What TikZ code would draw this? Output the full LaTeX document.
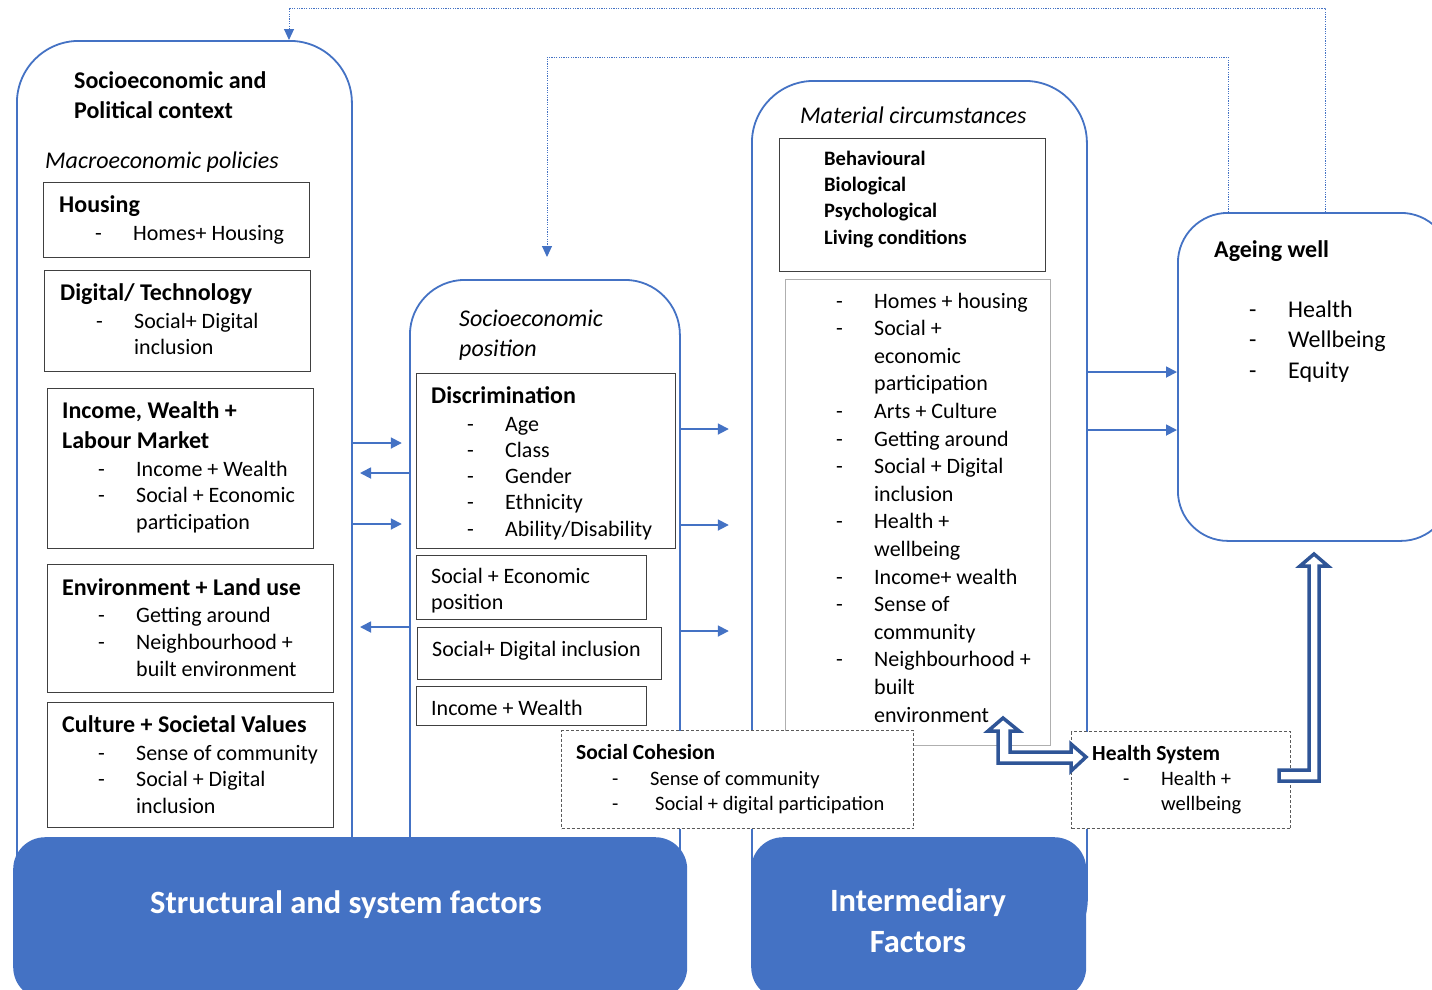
\documentclass[tikz,border=0pt]{standalone}
\usepackage{fontspec}
\setmainfont{Carlito}
\usetikzlibrary{arrows.meta}
\definecolor{sysblue}{RGB}{68, 114, 196}
\definecolor{deepblue}{RGB}{47, 85, 151}
\definecolor{boxgray}{RGB}{64, 64, 64}
\definecolor{listgray}{RGB}{175, 175, 175}
\definecolor{cohgray}{RGB}{90, 90, 90}
\tikzset{outer/.style = {draw=sysblue, line width=1.8, fill=white, anchor=north west, inner sep=0}}
\tikzset{inbox/.style = {draw=boxgray, line width=1.2, fill=white, anchor=north west, inner sep=0}}
\tikzset{listbox/.style = {draw=listgray, line width=1, fill=white, anchor=north west, inner sep=0}}
\tikzset{dbox/.style = {draw=cohgray, line width=1, dash pattern=on 3pt off 2pt, fill=white, anchor=north west, inner sep=0}}
\tikzset{banner/.style = {fill=sysblue, rounded corners=32, anchor=north west, inner sep=0}}
\tikzset{txt/.style = {anchor=base west, inner sep=0}}
\tikzset{head/.style = {font=\fontsize{24}{30}\selectfont\bfseries}}
\tikzset{ital/.style = {font=\fontsize{24}{30}\selectfont\itshape}}
\tikzset{body/.style = {font=\fontsize{22}{26.5}\selectfont}}
\tikzset{flow/.style = {draw=sysblue, line width=1.8, -{Triangle[length=11pt, width=11pt]}}}
\tikzset{loop/.style = {draw=sysblue, line width=1, dash pattern=on 1.2pt off 1.2pt, -{Triangle[length=11pt, width=10pt]}}}
\tikzset{hollow/.style = {draw=deepblue, line width=3.5, fill=white, line join=miter}}

\begin{document}
\begin{tikzpicture}[x=1pt, y=-1pt]
    \useasboundingbox (0, 0) rectangle (1432, 989);

    % outer columns
    \node [outer, minimum width=335, minimum height=920, rounded corners=62] (ctx) at (16, 40) {};
    \node [outer, minimum width=270, minimum height=680, rounded corners=55] (sep) at (409, 279) {};
    \node [outer, minimum width=335, minimum height=880, rounded corners=62] (mat) at (751, 80) {};
    \node [outer, minimum width=273, minimum height=328, rounded corners=50] (ageing) at (1177, 212) {};

    % socioeconomic and political context
    \node [txt, head] (ctxtitle) at (74, 88) {\begin{tabular}[t]{@{}l@{}}Socioeconomic and\\Political context\end{tabular}};
    \node [txt, ital] (macro) at (45, 168) {Macroeconomic policies};

    \node [inbox, minimum width=266, minimum height=75] (housing) at (43, 182) {};
    \node [txt, head] (housingt) at (59, 212) {Housing};
    \node [txt, body] (housingl) at (95, 240) {\begin{tabular}[t]{@{}p{38pt}@{}l@{}}- & Homes+ Housing\end{tabular}};

    \node [inbox, minimum width=266, minimum height=101] (digital) at (44, 270) {};
    \node [txt, head] (digitalt) at (60, 300) {Digital/ Technology};
    \node [txt, body] (digitall) at (96, 328) {\begin{tabular}[t]{@{}p{38pt}@{}l@{}}- & Social+ Digital\\ & inclusion\end{tabular}};

    \node [inbox, minimum width=266, minimum height=160] (income) at (47, 388) {};
    \node [txt, head] (incomet) at (62, 418) {\begin{tabular}[t]{@{}l@{}}Income, Wealth +\\Labour Market\end{tabular}};
    \node [txt, body] (incomel) at (98, 476) {\begin{tabular}[t]{@{}p{38pt}@{}l@{}}- & Income + Wealth\\- & Social + Economic\\ & participation\end{tabular}};

    \node [inbox, minimum width=286, minimum height=128] (environ) at (47, 564) {};
    \node [txt, head] (environt) at (62, 595) {Environment + Land use};
    \node [txt, font=\fontsize{22}{27}\selectfont] (environl) at (98, 622) {\begin{tabular}[t]{@{}p{38pt}@{}l@{}}- & Getting around\\- & Neighbourhood +\\ & built environment\end{tabular}};

    \node [inbox, minimum width=286, minimum height=125] (culture) at (47, 702) {};
    \node [txt, head] (culturet) at (62, 732) {Culture + Societal Values};
    \node [txt, body] (culturel) at (98, 760) {\begin{tabular}[t]{@{}p{38pt}@{}l@{}}- & Sense of community\\- & Social + Digital\\ & inclusion\end{tabular}};

    % socioeconomic position
    \node [txt, ital] (septitle) at (459, 326) {\begin{tabular}[t]{@{}l@{}}Socioeconomic\\position\end{tabular}};

    \node [inbox, minimum width=259, minimum height=175] (discrim) at (416, 373) {};
    \node [txt, head] (discrimt) at (431, 403) {Discrimination};
    \node [txt, font=\fontsize{22}{26.3}\selectfont] (discriml) at (467, 431) {\begin{tabular}[t]{@{}p{38pt}@{}l@{}}- & Age\\- & Class\\- & Gender\\- & Ethnicity\\- & Ability/Disability\end{tabular}};

    \node [inbox, minimum width=230, minimum height=64] (sepos) at (416, 555) {};
    \node [txt, font=\fontsize{22}{26}\selectfont] (sepost) at (431, 583) {\begin{tabular}[t]{@{}l@{}}Social + Economic\\position\end{tabular}};

    \node [inbox, minimum width=244, minimum height=52] (sdinc) at (417, 627) {};
    \node [txt, body] (sdinct) at (432, 656) {Social+ Digital inclusion};

    \node [inbox, minimum width=230, minimum height=39] (incwealth) at (416, 686) {};
    \node [txt, body] (incwealtht) at (431, 715) {Income + Wealth};

    % material circumstances
    \node [txt, ital] (mattitle) at (800, 123) {Material circumstances};

    \node [inbox, minimum width=266, minimum height=133] (factors) at (779, 138) {};
    \node [txt, font=\fontsize{20.5}{26.4}\selectfont\bfseries] (factorst) at (824, 165) {\begin{tabular}[t]{@{}l@{}}Behavioural\\Biological\\Psychological\\Living conditions\end{tabular}};

    \node [listbox, minimum width=265, minimum height=466] (matlist) at (785, 279) {};
    \node [txt, font=\fontsize{22}{27.6}\selectfont] (matlistt) at (836, 308) {\begin{tabular}[t]{@{}p{38pt}@{}l@{}}- & Homes + housing\\- & Social +\\ & economic\\ & participation\\- & Arts + Culture\\- & Getting around\\- & Social + Digital\\ & inclusion\\- & Health +\\ & wellbeing\\- & Income+ wealth\\- & Sense of\\ & community\\- & Neighbourhood +\\ & built\\ & environment\end{tabular}};

    % ageing well
    \node [txt, head] (ageingt) at (1214, 257) {Ageing well};
    \node [txt, font=\fontsize{24}{30.5}\selectfont] (ageingl) at (1249, 317) {\begin{tabular}[t]{@{}p{39pt}@{}l@{}}- & Health\\- & Wellbeing\\- & Equity\end{tabular}};

    % arrows between the columns
    \draw [flow] (ctx.east |- 0,443) -- ++(49, 0);
    \draw [flow] (sep.west |- 0,473) -- ++(-49, 0);
    \draw [flow] (ctx.east |- 0,524) -- ++(49, 0);
    \draw [flow] (sep.west |- 0,627) -- ++(-49, 0);

    \draw [flow] (sep.east |- 0,429) -- ++(48, 0);
    \draw [flow] (sep.east |- 0,525) -- ++(48, 0);
    \draw [flow] (sep.east |- 0,631) -- ++(48, 0);

    \draw [flow] (mat.east |- 0,372) -- (ageing.west |- 0,372);
    \draw [flow] (mat.east |- 0,430) -- (ageing.west |- 0,430);

    % feedback loops
    \coordinate (septop) at (547, 257);
    \draw [loop] (ageing.north -| 1325,0) |- (289, 8) -- (ctx.north -| 289,0);
    \draw [loop] (ageing.north -| 1228,0) |- (547, 57) -- (septop);

    % social cohesion and health system
    \node [dbox, minimum width=352, minimum height=98] (cohesion) at (561, 730) {};
    \node [txt, font=\fontsize{21.5}{26}\selectfont\bfseries] (cohesiont) at (576, 759) {Social Cohesion};
    \node [txt, font=\fontsize{20.5}{25.5}\selectfont] (cohesionl) at (612, 785) {\begin{tabular}[t]{@{}p{38pt}@{}l@{}}- & Sense of community\\- & \hspace{5pt}Social + digital participation\end{tabular}};

    \node [dbox, minimum width=219, minimum height=97] (hsystem) at (1071, 731) {};
    \node [txt, font=\fontsize{21.5}{26}\selectfont\bfseries] (hsystemt) at (1092, 760) {Health System};
    \node [txt, font=\fontsize{20.5}{25}\selectfont] (hsysteml) at (1123, 785) {\begin{tabular}[t]{@{}p{38pt}@{}l@{}}- & Health +\\ & wellbeing\end{tabular}};

    \draw [hollow] (1003, 718) -- (1019, 731) -- (1010, 731) -- (1010, 752) -- (1071, 752) -- (1071, 744)
        -- (1086, 757) -- (1071, 771) -- (1071, 763) -- (998, 763) -- (998, 731) -- (988, 731) -- cycle;
    \draw [hollow] (1279, 770) -- (1309, 770) -- (1309, 566) -- (1300, 566) -- (1314, 554) -- (1328, 566)
        -- (1319, 566) -- (1319, 781) -- (1279, 781) -- cycle;

    % factor banners
    \node [banner, minimum width=674, minimum height=162] (structural) at (13, 837) {};
    \node [anchor=base, inner sep=0, white, font=\fontsize{32.5}{41}\selectfont\bfseries] (structuralt) at (346, 913) {Structural and system factors};
    \node [banner, minimum width=335, minimum height=162] (intermediary) at (751, 837) {};
    \node [anchor=base, inner sep=0, white, font=\fontsize{32.5}{41}\selectfont\bfseries] (intermediaryt) at (918, 911) {\begin{tabular}[t]{@{}c@{}}Intermediary\\Factors\end{tabular}};
\end{tikzpicture}
\end{document}
